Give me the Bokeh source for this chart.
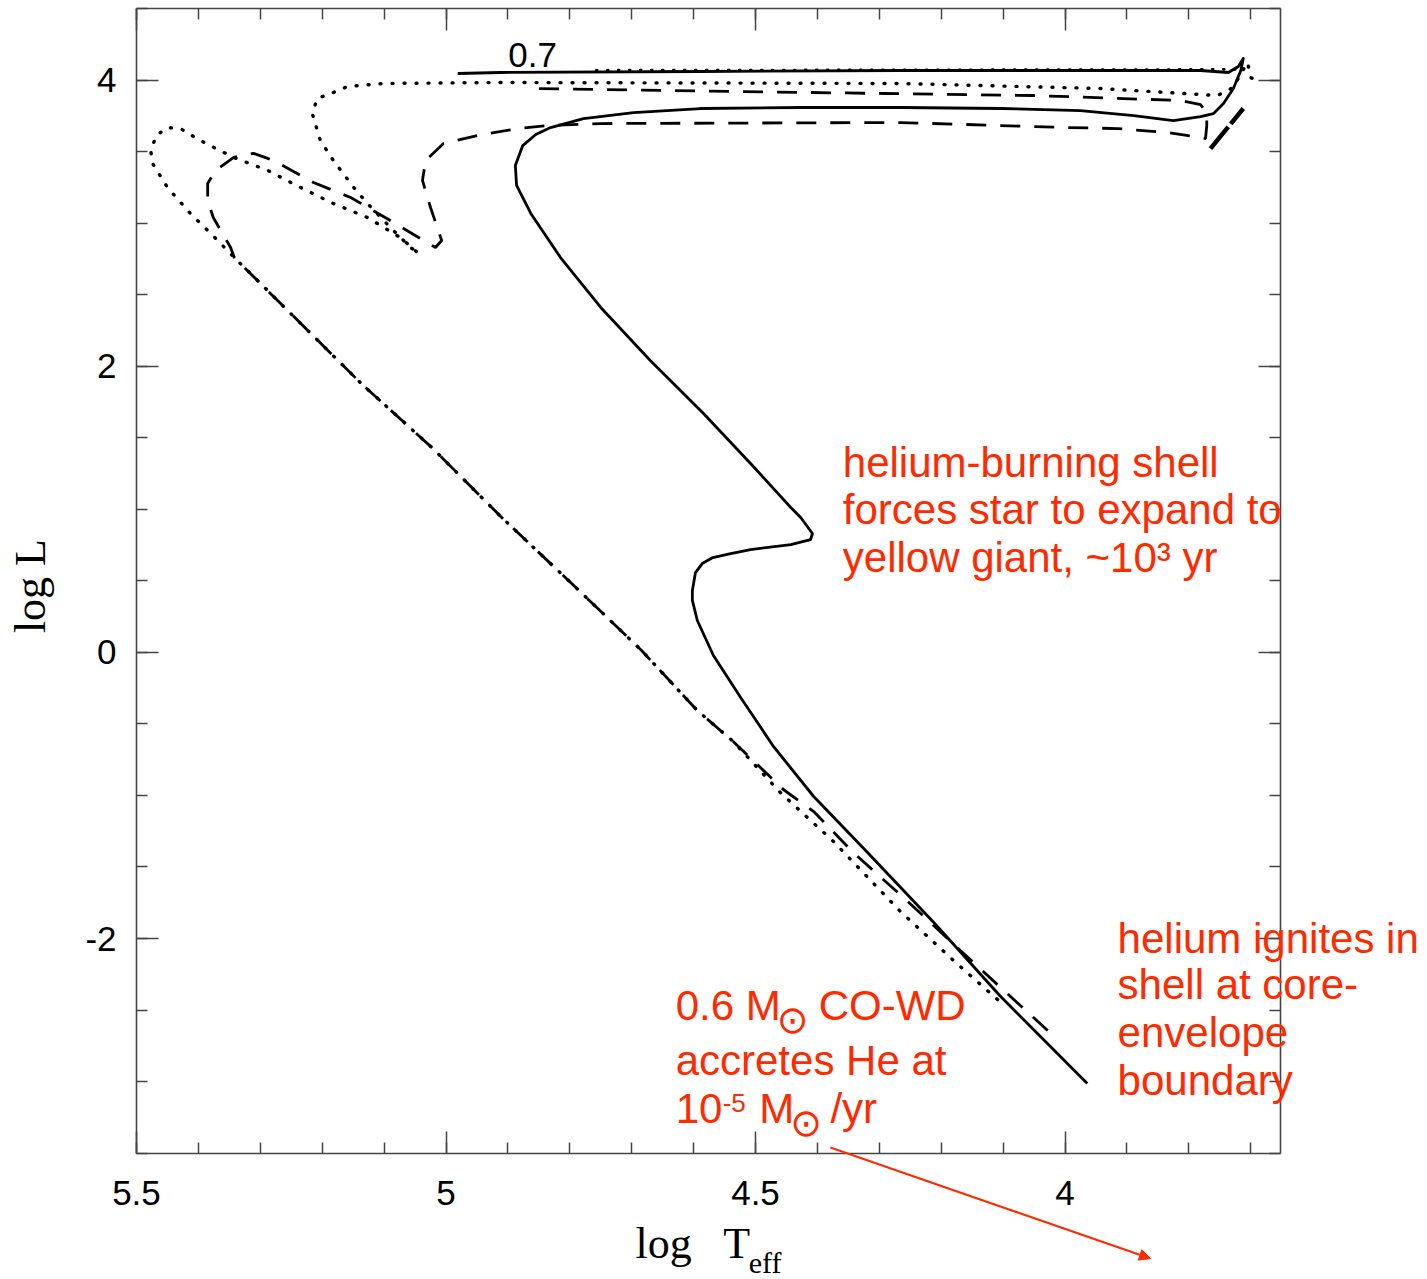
from bokeh.plotting import figure
from bokeh.models import (Range1d, LinearAxis, FixedTicker, Label, Arrow,
                          NormalHead, ColumnDataSource)
from bokeh.embed import file_html
from bokeh.resources import INLINE
import math

# ---- evolutionary tracks (log Teff, log L) ----
solid_logT = [3.964, 4.104, 4.212, 4.319, 4.406, 4.471, 4.524, 4.568, 4.594, 4.602,
              4.602, 4.597, 4.586, 4.569, 4.540, 4.508, 4.443, 4.411, 4.408, 4.427,
              4.443, 4.508, 4.584, 4.670, 4.750, 4.815, 4.863, 4.886, 4.888, 4.876,
              4.855, 4.831, 4.778, 4.697, 4.589, 4.427, 4.266, 4.104, 3.975, 3.889,
              3.825, 3.781, 3.760, 3.744, 3.728, 3.716, 3.712, 3.720, 3.736, 3.781,
              3.943, 4.266, 4.589, 4.912, 4.981]
solid_logL = [-3.014, -2.406, -1.888, -1.399, -1.007, -0.657, -0.315, -0.021, 0.224, 0.364,
              0.434, 0.559, 0.622, 0.664, 0.692, 0.720, 0.755, 0.790, 0.832, 0.944,
              1.014, 1.322, 1.671, 2.042, 2.413, 2.762, 3.070, 3.266, 3.406, 3.545,
              3.622, 3.671, 3.734, 3.776, 3.804, 3.811, 3.811, 3.804, 3.790, 3.755,
              3.720, 3.748, 3.769, 3.839, 3.944, 4.070, 4.154, 4.098, 4.056, 4.070,
              4.070, 4.070, 4.063, 4.056, 4.049]

dashed_logT = [4.028, 4.104, 4.169, 4.254, 4.342, 4.406, 4.455, 4.536, 4.594, 4.684,
               4.797, 4.910, 5.023, 5.137, 5.251, 5.342, 5.348, 5.376, 5.385, 5.385,
               5.372, 5.343, 5.311, 5.279, 5.214, 5.154, 5.090, 5.017, 5.007, 5.025,
               5.038, 5.033, 5.004, 4.949, 4.884, 4.836, 4.750, 4.266, 3.996, 3.915,
               3.834, 3.781, 3.773, 3.771, 3.771, 3.781, 3.813, 4.051, 4.293, 4.642,
               4.863]
dashed_logL = [-2.643, -2.343, -2.084, -1.741, -1.399, -1.112, -0.958, -0.622, -0.406, 0.014,
               0.483, 0.944, 1.434, 1.881, 2.371, 2.762, 2.832, 3.042, 3.161, 3.280,
               3.371, 3.462, 3.490, 3.441, 3.287, 3.182, 3.021, 2.832, 2.881, 3.112,
               3.301, 3.441, 3.559, 3.615, 3.664, 3.685, 3.699, 3.706, 3.671, 3.664,
               3.636, 3.601, 3.594, 3.685, 3.769, 3.832, 3.860, 3.895, 3.909, 3.930,
               3.944]
dashed_tail_logT = [3.765, 3.712]
dashed_tail_logL = [3.524, 3.804]

dotted_logT = [4.109, 4.180, 4.266, 4.374, 4.460, 4.536, 4.594, 4.684, 4.797, 4.910,
               5.023, 5.137, 5.251, 5.342, 5.353, 5.380, 5.413, 5.450, 5.474, 5.477,
               5.468, 5.450, 5.429, 5.397, 5.343, 5.288, 5.235, 5.182, 5.127, 5.074,
               5.044, 5.057, 5.085, 5.127, 5.149, 5.182, 5.203, 5.216, 5.208, 5.182,
               5.159, 5.101, 4.912, 4.266, 3.943, 3.834, 3.754, 3.728, 3.716, 3.705,
               3.700, 3.684]
dotted_logL = [-2.427, -2.154, -1.811, -1.322, -0.979, -0.622, -0.406, 0.014, 0.483, 0.944,
               1.434, 1.881, 2.371, 2.762, 2.811, 2.930, 3.070, 3.252, 3.420, 3.510,
               3.615, 3.671, 3.664, 3.580, 3.462, 3.371, 3.252, 3.140, 3.042, 2.902,
               2.790, 2.832, 2.951, 3.140, 3.252, 3.441, 3.580, 3.769, 3.874, 3.916,
               3.958, 3.979, 3.986, 3.979, 3.944, 3.916, 3.895, 3.951, 4.049, 4.126,
               4.021, 3.986]
dotted_top_logT = [3.725, 4.767]
dotted_top_logL = [4.078, 4.072]

# ---- axis ticks ----
x_major = [5.5, 5.0, 4.5, 4.0]
x_major_labels = ["5.5", "5", "4.5", "4"]
x_minor = [round(5.5 - 0.1 * i, 1) for i in range(19)]
y_major = [-2, 0, 2, 4]
y_major_labels = ["-2", "0", "2", "4"]
y_minor = [-3.5 + 0.5 * i for i in range(17)]

# plotted box (data limits of the diagram)
T_HOT, T_COOL = 5.5, 3.652
L_LOW, L_HIGH = -3.5, 4.5

RED = "#ff2a00"
AX = "#444444"
SANS = "Liberation Sans"
SERIF = "Liberation Serif"
PX_PER_L = 143.0          # vertical pixels per unit of log L
BASE_SHIFT = 0.35         # alphabetic baseline correction, in em

# the frame spans the whole page; the diagram box is drawn by four
# axes pinned at its edges so text may run outside the box
p = figure(width=1427, height=1279,
           x_range=Range1d(5.7197, 3.4144), y_range=Range1d(-4.3846, 4.5594),
           output_backend="svg", toolbar_location=None,
           x_axis_location=None, y_axis_location=None,
           min_border=0)
p.xgrid.visible = False
p.ygrid.visible = False
p.outline_line_color = None
p.background_fill_color = "white"
p.border_fill_color = "white"


def make_axis(major, minor, labels, loc, bounds, show):
    ax = LinearAxis(ticker=FixedTicker(ticks=major, minor_ticks=minor),
                    fixed_location=loc, bounds=bounds,
                    axis_line_color=AX, axis_line_width=1.6,
                    major_tick_line_color=AX, major_tick_line_width=1.5,
                    major_tick_in=22, major_tick_out=0,
                    minor_tick_line_color=AX, minor_tick_line_width=1.5,
                    minor_tick_in=11, minor_tick_out=0,
                    major_label_text_font=SANS,
                    major_label_text_font_size="35px",
                    major_label_overrides={float(v): t for v, t in zip(major, labels)})
    if show:
        ax.major_label_text_color = "black"
    else:
        ax.major_label_text_color = None
    return ax


x_bounds = (T_COOL, T_HOT)
y_bounds = (L_LOW, L_HIGH)
bottom = make_axis(x_major, x_minor, x_major_labels, L_LOW, x_bounds, True)
bottom.major_label_standoff = 28
left = make_axis(y_major, y_minor, y_major_labels, T_HOT, y_bounds, True)
left.major_label_standoff = 20
p.add_layout(bottom, "below")
p.add_layout(left, "left")
p.add_layout(make_axis(x_major, x_minor, x_major_labels, L_HIGH, x_bounds, False), "above")
p.add_layout(make_axis(y_major, y_minor, y_major_labels, T_COOL, y_bounds, False), "right")

# ---- tracks ----
p.line(x="t", y="l", source=ColumnDataSource(dict(t=dotted_logT, l=dotted_logL)),
       line_color="black", line_width=3.4, line_dash="1 11", line_cap="round")
p.line(x="t", y="l", source=ColumnDataSource(dict(t=dotted_top_logT, l=dotted_top_logL)),
       line_color="black", line_width=2.6, line_dash="1 10", line_cap="round")
p.line(x="t", y="l", source=ColumnDataSource(dict(t=dashed_logT, l=dashed_logL)),
       line_color="black", line_width=2.8, line_dash="20 14")
p.line(x="t", y="l", source=ColumnDataSource(dict(t=dashed_tail_logT, l=dashed_tail_logL)),
       line_color="black", line_width=4.5, line_dash="28 4")
p.line(x="t", y="l", source=ColumnDataSource(dict(t=solid_logT, l=solid_logL)),
       line_color="black", line_width=2.8, line_join="round")


def text(x, y, s, size=42, color=RED, font=SANS, align="left", baseline="alphabetic", **kw):
    if baseline == "alphabetic":
        y = y + BASE_SHIFT * size / PX_PER_L
    p.add_layout(Label(x=x, y=y, text=s, text_font=font, text_font_size=f"{size}px",
                       text_color=color, text_align=align, text_baseline=baseline, **kw))


# track mass label
text(4.860, 4.09, "0.7", size=35, color="black", align="center")

# upper-right note
text(4.359, 1.224, "helium-burning shell")
text(4.359, 0.895, "forces star to expand to")
text(4.359, 0.559, "yellow giant, ~10\u00b3 yr")

# lower-right note
text(3.915, -2.105, "helium ignites in")
text(3.915, -2.427, "shell at core-")
text(3.915, -2.762, "envelope")
text(3.915, -3.098, "boundary")

# lower-middle note
text(4.629, -2.573, "0.6 M")
text(4.440, -2.573, "\u2299", size=38, align="center", baseline="middle", font="DejaVu Sans")
text(4.398, -2.573, "CO-WD")
text(4.629, -2.958, "accretes He at")
text(4.629, -3.294, "10")
text(4.553, -3.217, "-5", size=26)
text(4.494, -3.294, "M")
text(4.418, -3.287, "\u2299", size=38, align="center", baseline="middle", font="DejaVu Sans")
text(4.379, -3.294, "/yr")

p.add_layout(Arrow(end=NormalHead(size=11, fill_color=RED, line_color=RED, line_width=1),
                   x_start=4.379, y_start=-3.462, x_end=3.862, y_end=-4.238,
                   line_color=RED, line_width=2))

# axis titles
text(4.694, -4.238, "log", size=44, color="black", font=SERIF)
text(4.552, -4.238, "T", size=44, color="black", font=SERIF)
text(4.511, -4.336, "eff", size=30, color="black", font=SERIF)
p.add_layout(Label(x=5.671, y=0.503, text="log  L", text_font=SERIF, text_font_size="44px",
                   text_color="black", angle=math.pi / 2, text_align="center",
                   text_baseline="alphabetic"))

open("out.html", "w").write(file_html(p, INLINE))
